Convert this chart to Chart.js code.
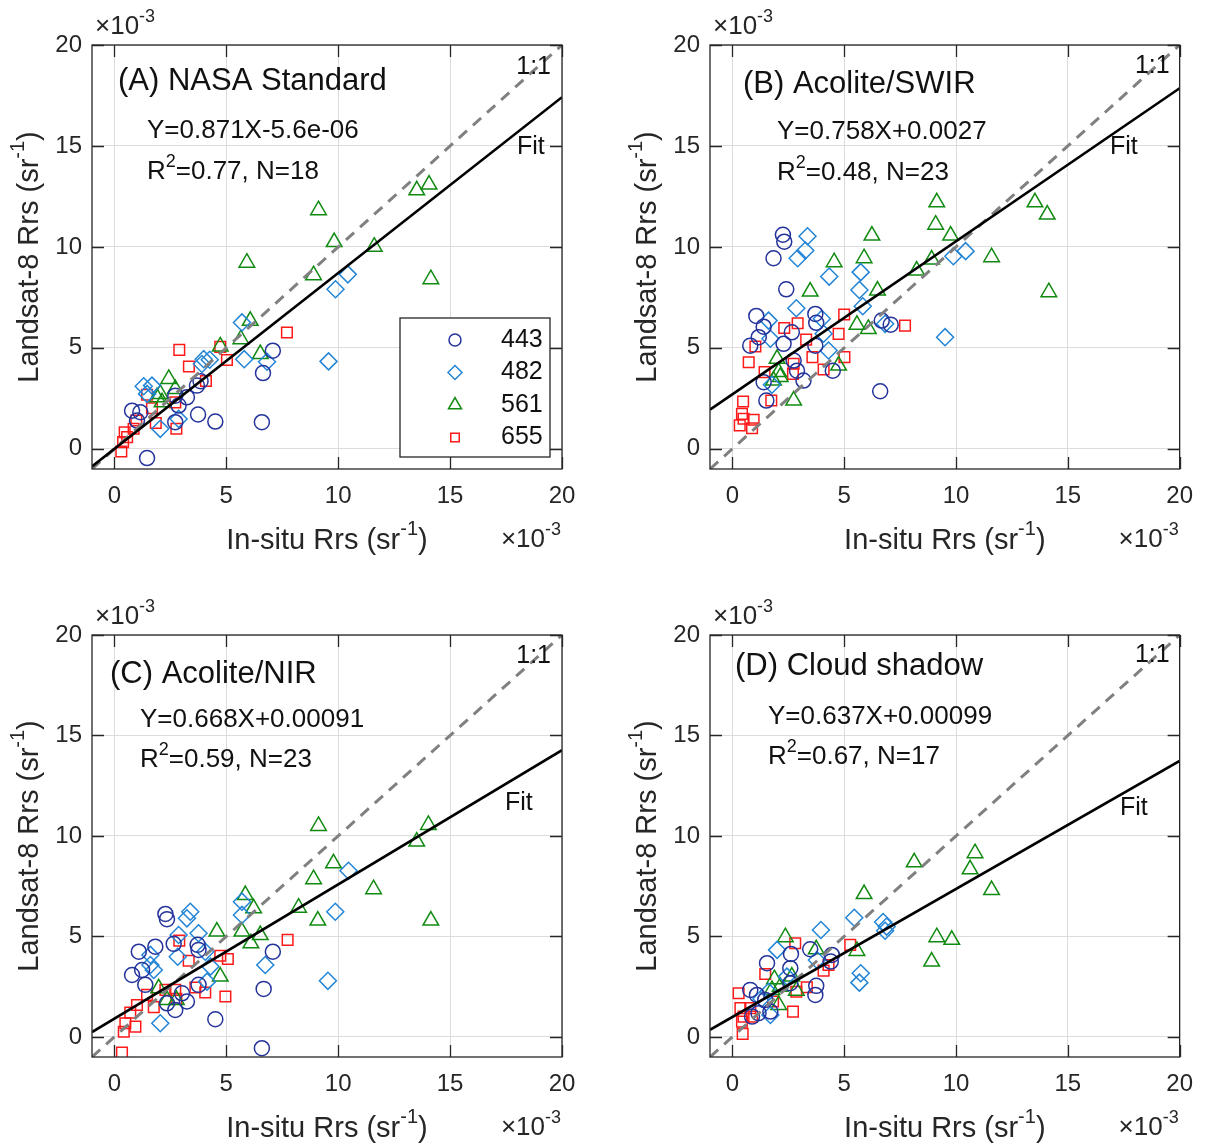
<!DOCTYPE html>
<html>
<head>
<meta charset="utf-8">
<script src="https://cdn.jsdelivr.net/npm/chart.js@4/dist/chart.umd.min.js"></script>
<style>
  body { margin: 0; background: #fff; }
  #page { position: relative; width: 1207px; height: 1148px; overflow: hidden; }
  .panel { position: absolute; width: 603px; height: 574px; }
</style>
</head>
<body>
<div id="page">
  <div class="panel" style="left:0;top:0"><canvas id="pA" width="603" height="574"></canvas></div>
  <div class="panel" style="left:603px;top:0"><canvas id="pB" width="603" height="574"></canvas></div>
  <div class="panel" style="left:0;top:574px"><canvas id="pC" width="603" height="574"></canvas></div>
  <div class="panel" style="left:603px;top:574px"><canvas id="pD" width="603" height="574"></canvas></div>
</div>
<script>
// all values in units of 1e-3 sr^-1, [in-situ, landsat]
const tickVals = [0, 5, 10, 15, 20];
const bands = ['443', '482', '561', '655'];

// (A) NASA Standard
const nasa443 = [[7.08,4.86],[6.64,3.75],[6.59,1.32],[4.51,1.35],[3.74,1.7],[3.69,3.13],[3.85,3.35],[3.24,2.55],[2.72,2.63],[2.87,2.14],[2.72,1.32],[0.79,1.89],[1.16,1.81],[1.01,1.4],[1.46,-0.46]];
const nasa482 = [[5.7,6.26],[5.8,4.44],[3.99,4.44],[3.91,4.2],[4.26,4.41],[6.82,4.31],[9.57,4.33],[10.43,8.64],[9.88,7.9],[1.31,3.1],[1.68,3.13],[2.87,1.48],[2.05,0.99],[1.46,2.72]];
const nasa561 = [[13.51,12.8],[14.06,13.09],[9.12,11.82],[9.82,10.24],[11.61,10.01],[8.9,8.6],[14.14,8.4],[5.92,9.22],[6.07,6.34],[5.65,5.43],[4.73,5.07],[6.52,4.69],[2.43,3.46],[2.05,2.72],[2.72,2.96],[2.13,2.3],[1.9,2.55]];
const nasa655 = [[7.71,5.76],[2.9,4.9],[4.73,5.05],[5.03,4.4],[3.33,4.08],[4.09,3.36],[1.46,2.68],[2.72,2.3],[1.68,2.01],[0.98,1.4],[1.85,1.28],[2.77,0.99],[0.86,0.99],[0.46,0.82],[0.57,0.58],[0.39,0.33],[0.31,-0.13]];
const fitNasa = [[-1,-0.877],[20,17.414]];

// (B) Acolite/SWIR
const swir443 = [[2.26,10.6],[2.32,10.26],[1.84,9.44],[2.41,7.9],[1.07,6.58],[1.4,6.05],[3.71,6.68],[3.75,6.24],[1.18,5.53],[0.8,5.11],[2.29,5.2],[2.66,5.77],[2.74,4.37],[2.89,3.87],[3.18,3.38],[1.4,3.3],[1.52,2.39],[3.71,5.11],[4.49,3.87],[6.61,2.85],[6.68,6.35],[7.08,6.15]];
const swir482 = [[3.36,10.53],[3.26,9.82],[2.92,9.44],[4.33,8.53],[5.74,8.75],[5.68,7.87],[5.83,7.06],[2.86,6.96],[1.62,6.35],[1.7,5.45],[4.0,6.44],[4.08,5.7],[4.3,4.87],[6.83,6.19],[1.77,3.17],[9.88,9.54],[10.43,9.79],[9.51,5.53]];
const swir561 = [[6.24,10.56],[5.89,9.44],[4.55,9.24],[3.48,7.79],[6.49,7.84],[5.57,6.14],[6.08,5.94],[2.0,4.46],[4.75,4.12],[2.07,3.8],[1.84,3.38],[2.74,2.39],[2.14,3.56],[9.14,12.21],[9.09,11.1],[9.76,10.56],[13.53,12.21],[14.08,11.6],[8.91,9.37],[8.24,8.83],[11.59,9.49],[14.15,7.76]];
const swir655 = [[5.0,6.65],[2.92,6.22],[2.32,5.98],[4.75,5.69],[3.3,5.41],[1.03,5.07],[0.73,4.29],[5.01,4.54],[3.58,4.54],[2.74,4.21],[4.08,3.93],[1.44,3.8],[2.71,3.71],[1.74,2.39],[0.48,2.34],[0.43,1.73],[0.95,1.44],[0.33,1.16],[0.88,1.02],[0.5,1.49],[7.72,6.1]];
const fitSwir = [[-1,1.942],[20,17.86]];

// (C) Acolite/NIR
const nir443 = [[2.28,6.12],[2.35,5.86],[1.83,4.49],[1.09,4.24],[2.65,4.63],[3.72,4.58],[3.76,4.33],[1.24,3.33],[0.79,3.08],[1.38,2.59],[7.08,4.24],[6.67,2.39],[4.51,0.88],[6.59,-0.56],[3.76,2.59],[3.24,1.76],[2.72,1.34],[2.35,1.67],[3.02,2.17]];
const nir482 = [[3.39,6.23],[3.24,5.9],[2.87,5.07],[3.76,5.16],[2.83,3.99],[1.61,4.08],[1.61,3.58],[1.76,3.33],[4.06,4.24],[4.29,3.5],[6.74,3.58],[5.7,6.07],[5.7,6.73],[2.05,0.68],[4.14,2.75],[10.46,8.27],[9.87,6.23],[9.54,2.79]];
const nir561 = [[9.12,10.5],[14.03,10.55],[13.51,9.72],[9.79,8.64],[8.9,7.85],[11.58,7.35],[8.23,6.43],[9.09,5.79],[14.14,5.79],[5.85,7.06],[6.22,6.4],[5.7,5.24],[4.58,5.24],[6.52,5.07],[6.1,4.66],[4.73,3.0],[1.98,2.42],[2.35,1.84],[2.77,1.84]];
const nir655 = [[7.74,4.83],[2.9,4.79],[3.32,3.79],[4.73,4.04],[5.07,3.88],[4.06,2.21],[3.62,2.46],[4.96,2.01],[2.72,2.34],[2.28,2.34],[1.46,2.09],[1.01,1.59],[1.76,1.48],[0.71,1.21],[0.49,0.68],[0.94,0.51],[0.42,0.26],[0.34,-0.78],[2.77,1.89]];
const fitNir = [[-1,0.242],[20,14.27]];

// (D) Cloud shadow
const shadow443 = [[2.62,4.13],[3.48,4.36],[4.45,4.08],[4.4,3.75],[1.55,3.67],[2.59,3.42],[2.59,2.67],[3.75,2.54],[3.71,2.09],[0.8,2.34],[1.1,2.09],[1.47,1.84],[1.17,1.18],[1.7,1.26],[0.88,1.01]];
const shadow482 = [[5.45,5.93],[3.96,5.32],[2.0,4.33],[6.74,5.72],[6.9,5.49],[6.83,5.28],[5.74,3.17],[5.68,2.7],[3.78,3.83],[1.7,1.09],[1.62,2.25],[2.44,3.0],[1.3,1.9]];
const shadow561 = [[5.89,7.11],[2.37,4.96],[3.75,4.36],[5.57,4.28],[2.66,3.0],[1.88,2.87],[2.14,2.5],[2.86,2.3],[2.07,1.59],[1.77,2.34],[8.13,8.69],[10.85,9.14],[10.63,8.34],[11.59,7.31],[9.14,4.96],[9.81,4.83],[8.91,3.75]];
const shadow655 = [[2.81,4.66],[5.27,4.58],[1.47,3.13],[0.28,2.17],[4.3,3.58],[4.08,3.3],[3.33,2.47],[2.86,2.25],[1.82,1.76],[2.71,1.26],[0.36,1.43],[0.8,1.43],[0.5,1.01],[0.43,0.76],[0.46,0.15],[0.88,1.01]];
const fitShadow = [[-1,0.353],[20,13.73]];

const oneToOne = [[-1,-1],[20,20]];

const FONT = '"Liberation Sans", Arial, sans-serif';
const INK = '#262626';
const TICK = 12;

const markers = [
  { style: 'circle', color: '#23339a', radius: 7.5 },
  { style: 'rectRot', color: '#2385d6', radius: 8.5 },
  { style: 'triangle', color: '#118a11', radius: 9 },
  { style: 'rect', color: '#ff1a1a', radius: 7.5 },
];

const panels = [
  { id: 'pA', sets: [nasa443, nasa482, nasa561, nasa655], fit: fitNasa,
    title: '(A) NASA Standard', eq: 'Y=0.871X-5.6e-06', r2: '=0.77, N=18', legend: true,
    area: { left: 92, top: 45, right: 562, bottom: 469 },
    titleAt: [26, 36], eqAt: [55, 86], r2At: [55, 127], oneAt: [-11, 22], fitAt: [425, 102] },
  { id: 'pB', sets: [swir443, swir482, swir561, swir655], fit: fitSwir,
    title: '(B) Acolite/SWIR', eq: 'Y=0.758X+0.0027', r2: '=0.48, N=23', legend: false,
    area: { left: 107, top: 45, right: 577, bottom: 469 },
    titleAt: [33, 39], eqAt: [67, 87], r2At: [67, 128], oneAt: [-10, 21], fitAt: [400, 102] },
  { id: 'pC', sets: [nir443, nir482, nir561, nir655], fit: fitNir,
    title: '(C) Acolite/NIR', eq: 'Y=0.668X+0.00091', r2: '=0.59, N=23', legend: false,
    area: { left: 92, top: 61, right: 562, bottom: 483 },
    titleAt: [18, 39], eqAt: [48, 85], r2At: [48, 125], oneAt: [-11, 21], fitAt: [413, 168] },
  { id: 'pD', sets: [shadow443, shadow482, shadow561, shadow655], fit: fitShadow,
    title: '(D) Cloud shadow', eq: 'Y=0.637X+0.00099', r2: '=0.67, N=17', legend: false,
    area: { left: 107, top: 61, right: 577, bottom: 483 },
    titleAt: [25, 31], eqAt: [58, 82], r2At: [58, 122], oneAt: [-10, 20], fitAt: [410, 173] },
];

// text with superscript parts: [[text, isSup], ...]
function drawRich(ctx, x, y, parts, size, align) {
  const supSize = Math.round(size * 0.68);
  const widths = parts.map(([t, sup]) => {
    ctx.font = `${sup ? supSize : size}px ${FONT}`;
    return ctx.measureText(t).width;
  });
  const total = widths.reduce((a, b) => a + b, 0);
  let cx = align === 'center' ? x - total / 2 : align === 'right' ? x - total : x;
  ctx.textAlign = 'left';
  ctx.textBaseline = 'middle';
  parts.forEach(([t, sup], i) => {
    ctx.font = `${sup ? supSize : size}px ${FONT}`;
    ctx.fillText(t, cx, sup ? y - size * 0.4 : y);
    cx += widths[i];
  });
}

function drawMarker(ctx, m, x, y, r) {
  ctx.save();
  ctx.strokeStyle = m.color;
  ctx.lineWidth = 1.5;
  ctx.beginPath();
  if (m.style === 'circle') {
    ctx.arc(x, y, r, 0, Math.PI * 2);
  } else if (m.style === 'rectRot') {
    ctx.moveTo(x, y - r); ctx.lineTo(x + r, y); ctx.lineTo(x, y + r); ctx.lineTo(x - r, y); ctx.closePath();
  } else if (m.style === 'triangle') {
    const h = r * 1.5, w = r * Math.sqrt(3) / 2;
    ctx.moveTo(x, y - h * 2 / 3); ctx.lineTo(x + w, y + h / 3); ctx.lineTo(x - w, y + h / 3); ctx.closePath();
  } else {
    const s = r * Math.SQRT1_2;
    ctx.rect(x - s, y - s, 2 * s, 2 * s);
  }
  ctx.stroke();
  ctx.restore();
}

const decor = {
  id: 'decor',
  afterDatasetsDraw(chart, args, p) {
    const { ctx, chartArea: a, scales: { x, y } } = chart;
    ctx.save();
    ctx.strokeStyle = INK;
    ctx.lineWidth = 1.3;
    ctx.strokeRect(a.left, a.top, a.right - a.left, a.bottom - a.top);
    ctx.beginPath();
    tickVals.forEach(v => {
      const px = Math.round(x.getPixelForValue(v)) + 0.5;
      const py = Math.round(y.getPixelForValue(v)) + 0.5;
      ctx.moveTo(px, a.bottom); ctx.lineTo(px, a.bottom - TICK);
      ctx.moveTo(px, a.top); ctx.lineTo(px, a.top + TICK);
      ctx.moveTo(a.left, py); ctx.lineTo(a.left + TICK, py);
      ctx.moveTo(a.right, py); ctx.lineTo(a.right - TICK, py);
    });
    ctx.stroke();

    ctx.fillStyle = '#111';
    drawRich(ctx, a.left + p.titleAt[0], a.top + p.titleAt[1], [[p.title, false]], 31, 'left');
    drawRich(ctx, a.left + p.eqAt[0], a.top + p.eqAt[1], [[p.eq, false]], 26, 'left');
    drawRich(ctx, a.left + p.r2At[0], a.top + p.r2At[1], [['R', false], ['2', true], [p.r2, false]], 26, 'left');
    drawRich(ctx, a.right + p.oneAt[0], a.top + p.oneAt[1], [['1:1', false]], 25, 'right');
    drawRich(ctx, a.left + p.fitAt[0], a.top + p.fitAt[1], [['Fit', false]], 25, 'left');

    // axis titles and exponent labels
    ctx.fillStyle = INK;
    const cx = (a.left + a.right) / 2, cy = (a.top + a.bottom) / 2;
    drawRich(ctx, cx, a.bottom + 72, [['In-situ Rrs (sr', false], ['-1', true], [')', false]], 29, 'center');
    ctx.save();
    ctx.translate(a.left - 62, cy);
    ctx.rotate(-Math.PI / 2);
    drawRich(ctx, 0, 0, [['Landsat-8 Rrs (sr', false], ['-1', true], [')', false]], 29, 'center');
    ctx.restore();
    drawRich(ctx, a.left + 3, a.top - 18, [['\u00d7', false], ['10', false], ['-3', true]], 26, 'left');
    drawRich(ctx, a.right - 1, a.bottom + 71, [['\u00d7', false], ['10', false], ['-3', true]], 26, 'right');

    if (p.legend) {
      const lx = a.left + 308, ly = a.top + 273;
      ctx.fillStyle = '#fff';
      ctx.fillRect(lx, ly, 150, 139);
      ctx.strokeStyle = INK;
      ctx.lineWidth = 1.3;
      ctx.strokeRect(lx, ly, 150, 139);
      bands.forEach((b, i) => {
        const ry = ly + 22 + i * 32.5;
        drawMarker(ctx, markers[i], lx + 55, ry, markers[i].radius - 1.5);
        ctx.fillStyle = '#111';
        drawRich(ctx, lx + 101, ry, [[b, false]], 25, 'left');
      });
    }
    ctx.restore();
  },
};

const toXY = pts => pts.map(([x, y]) => ({ x, y }));

panels.forEach(p => {
  const datasets = [
    { type: 'line', data: toXY(p.fit), borderColor: '#000', borderWidth: 2.6, pointRadius: 0, order: 0 },
    { type: 'line', data: toXY(oneToOne), borderColor: '#808080', borderWidth: 3, borderDash: [11, 8], pointRadius: 0, order: 0 },
  ];
  p.sets.forEach((pts, i) => {
    const m = markers[i];
    datasets.push({
      type: 'scatter', label: bands[i], data: toXY(pts), order: 1,
      pointStyle: m.style, pointRadius: m.radius, pointBorderWidth: 1.5,
      borderColor: m.color, backgroundColor: 'rgba(0,0,0,0)',
    });
  });

  const a = p.area;
  new Chart(document.getElementById(p.id), {
    type: 'scatter',
    data: { datasets },
    options: {
      responsive: false,
      animation: false,
      events: [],
      layout: { padding: { top: a.top, right: 603 - a.right, bottom: 0, left: 0 } },
      plugins: { legend: { display: false }, tooltip: { enabled: false }, decor: p },
      scales: {
        x: {
          type: 'linear', min: -1, max: 20,
          afterBuildTicks: s => { s.ticks = tickVals.map(v => ({ value: v })); },
          afterFit: s => { s.height = 574 - a.bottom; },
          grid: { color: '#dcdcdc', lineWidth: 1, drawTicks: false },
          border: { display: false },
          ticks: { color: INK, font: { family: FONT, size: 24 }, padding: 13, maxRotation: 0 },
        },
        y: {
          type: 'linear', min: -1, max: 20,
          afterBuildTicks: s => { s.ticks = tickVals.map(v => ({ value: v })); },
          afterFit: s => { s.width = a.left; },
          grid: { color: '#dcdcdc', lineWidth: 1, drawTicks: false },
          border: { display: false },
          ticks: { color: INK, font: { family: FONT, size: 24 }, padding: 10 },
        },
      },
    },
    plugins: [decor],
  });
});
</script>
</body>
</html>
